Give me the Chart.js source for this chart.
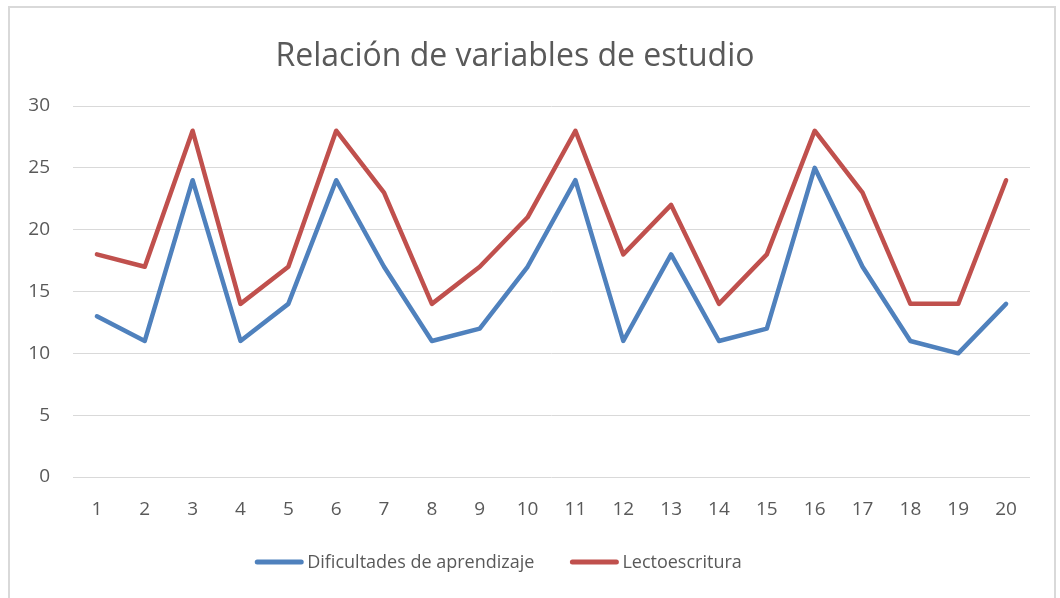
<!DOCTYPE html>
<html>
<head>
<meta charset="utf-8">
<script src="https://cdn.jsdelivr.net/npm/chart.js@4"></script>
<style>
  html, body { margin: 0; padding: 0; background: #ffffff; overflow: hidden; }
  #wrap { position: relative; width: 1060px; height: 598px; }
  #frame { position: absolute; left: 8px; top: 6px; width: 1048px; height: 620px; border: 2px solid #d9d9d9; box-sizing: border-box; pointer-events: none; }
  canvas { position: absolute; left: 0; top: 0; }
</style>
</head>
<body>
<div id="wrap">
  <canvas id="c" width="1060" height="598"></canvas>
  <div id="frame"></div>
</div>
<script>
const chartTitle = "Relación de variables de estudio";
const categories = ["1","2","3","4","5","6","7","8","9","10","11","12","13","14","15","16","17","18","19","20"];
const seriesNames = ["Dificultades de aprendizaje", "Lectoescritura"];
const dificultades = [13, 11, 24, 11, 14, 24, 17, 11, 12, 17, 24, 11, 18, 11, 12, 25, 17, 11, 10, 14];
const lectoescritura = [18, 17, 28, 14, 17, 28, 23, 14, 17, 21, 28, 18, 22, 14, 18, 28, 23, 14, 14, 24];
const seriesColors = ["#4f81bd", "#c0504d"];

const textColor = "#595959";
const fontFamily = "'Open Sans', sans-serif";

const legendPlugin = {
  id: 'customLegend',
  afterDraw(chart) {
    const ctx = chart.ctx;
    ctx.save();
    ctx.font = "18px " + fontFamily;
    const lineLen = 48, gap = 4, spacing = 36;
    const items = chart.data.datasets.map(ds => ({ label: ds.label, color: ds.borderColor, w: ctx.measureText(ds.label).width }));
    let total = 0;
    items.forEach((it, i) => { total += lineLen + gap + it.w + (i < items.length - 1 ? spacing : 0); });
    let x = 498.5 - total / 2;
    const y = 563;
    items.forEach(it => {
      ctx.strokeStyle = it.color;
      ctx.lineWidth = 5;
      ctx.lineCap = 'round';
      ctx.beginPath();
      ctx.moveTo(x + 2, y - 1);
      ctx.lineTo(x + lineLen - 2, y - 1);
      ctx.stroke();
      x += lineLen + gap;
      ctx.fillStyle = textColor;
      ctx.textBaseline = 'middle';
      ctx.textAlign = 'left';
      ctx.fillText(it.label, x, y);
      x += it.w + spacing;
    });
    ctx.restore();
  }
};

new Chart(document.getElementById('c'), {
  type: 'line',
  data: {
    labels: categories,
    datasets: [
      { label: seriesNames[0], data: dificultades, borderColor: seriesColors[0], backgroundColor: seriesColors[0], borderWidth: 4.5, pointRadius: 0, tension: 0, borderJoinStyle: 'round', borderCapStyle: 'round' },
      { label: seriesNames[1], data: lectoescritura, borderColor: seriesColors[1], backgroundColor: seriesColors[1], borderWidth: 4.5, pointRadius: 0, tension: 0, borderJoinStyle: 'round', borderCapStyle: 'round' }
    ]
  },
  options: {
    responsive: false,
    animation: false,
    devicePixelRatio: 1,
    layout: { padding: { left: 0, right: 30, top: 0, bottom: 61 } },
    plugins: {
      legend: { display: false },
      tooltip: { enabled: false },
      title: {
        display: true,
        text: chartTitle,
        color: textColor,
        font: { family: fontFamily, size: 32, weight: 'normal', lineHeight: 1.2 },
        padding: { top: 38, bottom: 29.6 }
      }
    },
    scales: {
      x: {
        offset: true,
        grid: { display: false, drawTicks: false },
        border: { display: false },
        ticks: { color: textColor, font: { family: fontFamily, size: 19 }, padding: 21, maxRotation: 0, autoSkip: false },
        afterFit(scale) { scale.height = 60; }
      },
      y: {
        min: 0, max: 30,
        grid: { color: "#d9d9d9", lineWidth: 1, drawTicks: false },
        border: { display: false },
        ticks: { stepSize: 5, color: textColor, font: { family: fontFamily, size: 19 }, padding: 23 },
        afterFit(scale) { scale.width = 73; }
      }
    }
  },
  plugins: [legendPlugin]
});
</script>
</body>
</html>
